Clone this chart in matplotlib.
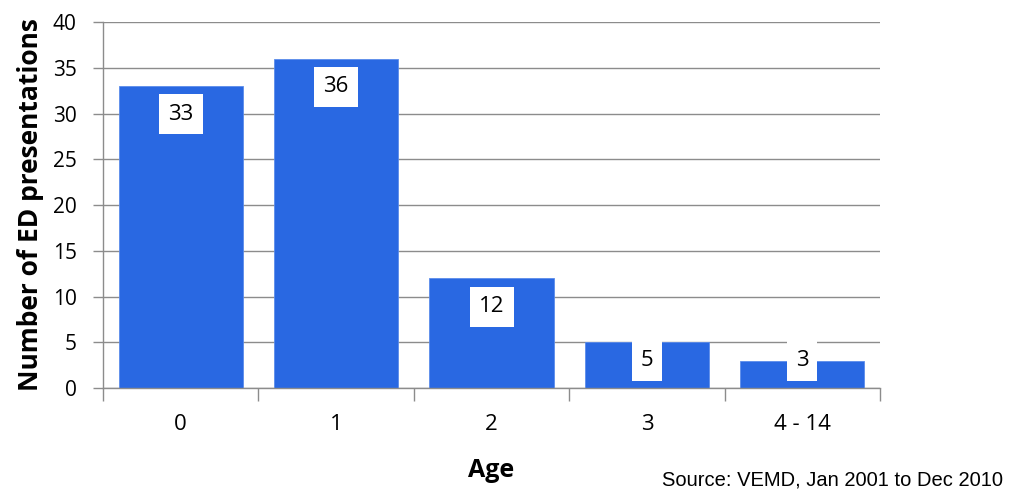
import numpy as np
import matplotlib.pyplot as plt
from matplotlib.patches import Rectangle

# data
ages = ["0", "1", "2", "3", "4 - 14"]
counts = [33, 36, 12, 5, 3]

bar_color = "#2968E2"
grid_color = "#8C8C8C"

plt.rcParams['font.family'] = ['Open Sans', 'DejaVu Sans']

fig = plt.figure(figsize=(10.21, 4.90), dpi=100)
ax = fig.add_axes([103 / 1021, 102 / 490, 777 / 1021, 366 / 490])

x = np.arange(len(ages))
ax.bar(x, counts, width=0.8, color=bar_color, edgecolor="#5B8CEB", linewidth=0.6, zorder=2)

ax.set_xlim(-0.5, len(ages) - 0.5)
ax.set_ylim(0, 40)
ax.set_yticks(np.arange(0, 41, 5))
ax.yaxis.grid(True, color=grid_color, linewidth=1.0, zorder=0)
ax.set_axisbelow(True)

# category ticks at boundaries
ax.set_xticks(x)
ax.set_xticklabels(ages, fontsize=16)
ax.set_xticks(np.arange(-0.5, len(ages)), minor=True)
ax.tick_params(axis='x', which='major', length=0, pad=19)
ax.tick_params(axis='x', which='minor', length=9, color=grid_color, width=1.0)
ax.tick_params(axis='y', length=7, color=grid_color, width=1.0, labelsize=15, pad=12)

for s in ["top", "right"]:
    ax.spines[s].set_visible(False)
for s in ["left", "bottom"]:
    ax.spines[s].set_color(grid_color)
    ax.spines[s].set_linewidth(1.0)

# data labels (white boxes), inside end, clamped near the bottom
px_x = 777 / len(ages)   # pixels per category
px_y = 366 / 40          # pixels per unit
for xi, v in zip(x, counts):
    yl = max(v - 3.1, 3.0)
    w = (16 + 14 * len(str(v))) / px_x
    h = 40 / px_y
    ax.add_patch(Rectangle((xi - w / 2, yl - h / 2), w, h, facecolor='white',
                           edgecolor='none', zorder=3))
    ax.text(xi, yl, str(v), ha='center', va='center', fontsize=16, zorder=4)

ax.set_ylabel("Number of ED presentations", fontsize=19, fontweight='bold', labelpad=6)
ax.set_xlabel("Age", fontsize=18, fontweight='bold', labelpad=16)

fig.text(1003 / 1021, 1 - 480 / 490, "Source: VEMD, Jan 2001 to Dec 2010",
         ha='right', va='center', fontsize=14.5, family=['Liberation Sans', 'DejaVu Sans'])

plt.savefig("out.png", dpi=100)
